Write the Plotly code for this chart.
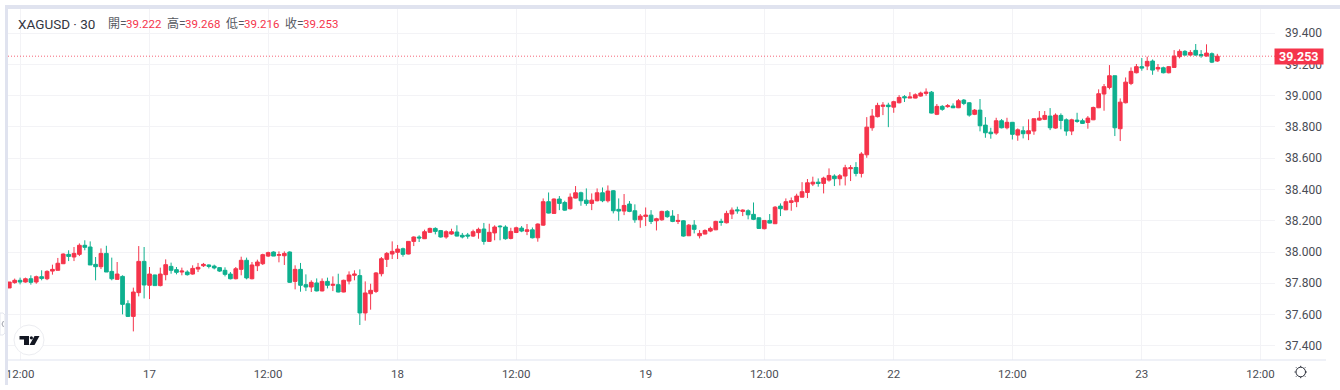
import plotly.graph_objects as go

# ---------- chart values ----------
opens = [37.77,37.804,37.819,37.808,37.829,37.808,37.842,37.829,37.878,37.883,37.925,37.985,37.968,37.985,38.043,38.032,37.921,37.906,37.991,37.876,37.825,37.844,37.669,37.588,37.74,37.94,37.787,37.853,37.785,37.855,37.908,37.887,37.872,37.872,37.859,37.891,37.912,37.917,37.91,37.9,37.883,37.859,37.829,37.889,37.947,37.829,37.912,
37.925,37.974,38.0,37.979,37.976,38.0,37.812,37.889,37.791,37.776,37.802,37.751,37.812,37.787,37.791,37.744,37.814,37.851,37.849,37.61,37.733,37.748,37.861,37.953,37.987,37.998,38.021,37.987,38.068,38.096,38.085,38.126,38.151,38.137,38.096,38.115,38.128,38.107,38.109,38.102,38.124,38.147,38.068,38.122,38.166,38.16,
38.087,38.125,38.153,38.132,38.142,38.091,38.172,38.322,38.247,38.339,38.317,38.277,38.345,38.379,38.332,38.311,38.328,38.379,38.328,38.392,38.273,38.262,38.307,38.264,38.206,38.228,38.236,38.2,38.206,38.26,38.23,38.196,38.2,38.104,38.172,38.104,38.115,38.134,38.142,38.196,38.187,38.243,38.27,38.26,38.264,38.241,
38.219,38.149,38.202,38.181,38.294,38.27,38.317,38.322,38.351,38.381,38.435,38.447,38.439,38.46,38.486,38.469,38.486,38.533,38.541,38.503,38.622,38.795,38.866,38.932,38.94,38.927,38.955,38.994,38.985,38.985,38.998,39.015,39.023,38.881,38.932,38.93,38.934,38.923,38.972,38.955,38.881,38.908,38.812,38.767,38.761,38.84,38.795,
38.83,38.748,38.776,38.757,38.774,38.844,38.849,38.87,38.793,38.874,38.846,38.774,38.844,38.84,38.829,38.846,38.923,39.011,39.053,39.128,38.789,38.955,39.079,39.147,39.186,39.19,39.222,39.171,39.179,39.147,39.181,39.25,39.284,39.26,39.29,39.264,39.254,39.269,39.222]

highs = [37.79,37.83,37.836,37.836,37.851,37.849,37.883,37.883,37.919,37.962,37.991,38.011,38.032,38.055,38.075,38.068,37.968,38.023,38.04,37.964,37.936,37.851,37.691,37.772,38.038,38.032,37.904,37.855,37.9,37.953,37.932,37.904,37.9,37.883,37.915,37.93,37.93,37.921,37.919,37.904,37.902,37.872,37.904,37.97,37.964,37.936,37.951,
37.989,38.002,38.004,38.004,38.004,38.004,37.915,37.93,37.857,37.819,37.831,37.831,37.836,37.844,37.861,37.823,37.876,37.883,37.889,37.812,37.797,37.872,37.968,38.0,38.068,38.045,38.028,38.07,38.1,38.107,38.143,38.156,38.158,38.141,38.139,38.149,38.171,38.122,38.122,38.143,38.156,38.186,38.181,38.171,38.171,38.171,
38.155,38.162,38.166,38.179,38.157,38.183,38.343,38.381,38.343,38.358,38.328,38.375,38.422,38.386,38.407,38.375,38.407,38.413,38.426,38.396,38.343,38.371,38.326,38.305,38.243,38.285,38.268,38.219,38.264,38.268,38.268,38.243,38.204,38.179,38.204,38.14,38.145,38.162,38.2,38.213,38.264,38.285,38.29,38.273,38.273,38.317,
38.221,38.204,38.243,38.294,38.311,38.343,38.349,38.373,38.447,38.467,38.482,38.471,38.482,38.535,38.497,38.499,38.558,38.556,38.575,38.639,38.863,38.915,38.955,38.959,38.955,38.968,39.004,39.004,39.023,39.015,39.026,39.047,39.03,38.947,38.94,38.947,38.951,38.979,38.979,38.959,38.915,38.979,38.863,38.795,38.859,38.851,38.859,
38.831,38.791,38.804,38.849,38.853,38.902,38.902,38.921,38.887,38.887,38.855,38.853,38.891,38.853,38.87,38.93,39.041,39.075,39.196,39.128,38.983,39.117,39.181,39.203,39.241,39.25,39.232,39.203,39.186,39.19,39.292,39.297,39.292,39.292,39.331,39.292,39.329,39.277,39.268]

lows = [37.77,37.797,37.793,37.804,37.791,37.797,37.819,37.82,37.855,37.883,37.923,37.942,37.942,37.974,38.011,37.917,37.819,37.891,37.872,37.819,37.825,37.601,37.584,37.492,37.716,37.703,37.699,37.785,37.78,37.819,37.861,37.857,37.851,37.849,37.855,37.872,37.904,37.895,37.889,37.872,37.844,37.825,37.825,37.851,37.825,37.825,37.878,
37.917,37.968,37.974,37.934,37.917,37.802,37.761,37.746,37.75,37.744,37.748,37.748,37.767,37.75,37.742,37.742,37.793,37.819,37.533,37.561,37.631,37.738,37.844,37.904,37.955,37.955,37.97,37.985,38.038,38.064,38.083,38.124,38.113,38.092,38.085,38.111,38.1,38.087,38.085,38.096,38.085,38.047,38.064,38.075,38.075,38.079,
38.081,38.121,38.127,38.108,38.087,38.066,38.168,38.247,38.245,38.268,38.264,38.272,38.343,38.296,38.296,38.268,38.324,38.319,38.317,38.247,38.2,38.236,38.255,38.187,38.155,38.166,38.179,38.138,38.2,38.219,38.191,38.179,38.098,38.102,38.119,38.087,38.113,38.127,38.14,38.168,38.183,38.211,38.245,38.23,38.209,38.204,
38.149,38.145,38.183,38.179,38.23,38.268,38.264,38.287,38.349,38.345,38.422,38.418,38.375,38.45,38.422,38.426,38.426,38.454,38.484,38.477,38.603,38.776,38.861,38.876,38.799,38.891,38.951,38.96,38.985,38.983,38.994,39.0,38.887,38.876,38.904,38.923,38.921,38.921,38.94,38.866,38.876,38.772,38.731,38.725,38.75,38.791,38.785,
38.72,38.712,38.727,38.716,38.75,38.84,38.844,38.78,38.789,38.785,38.744,38.748,38.827,38.819,38.789,38.844,38.921,38.904,39.041,38.742,38.71,38.951,39.068,39.143,39.16,39.164,39.134,39.154,39.143,39.143,39.179,39.239,39.256,39.256,39.256,39.243,39.25,39.209,39.216]

closes = [37.808,37.819,37.808,37.829,37.806,37.842,37.831,37.876,37.889,37.928,37.987,37.972,37.991,38.043,38.03,37.917,37.906,37.991,37.872,37.829,37.859,37.665,37.588,37.744,37.94,37.789,37.859,37.785,37.859,37.919,37.883,37.87,37.878,37.855,37.895,37.902,37.921,37.908,37.898,37.878,37.857,37.829,37.893,37.947,37.834,37.917,37.936,
37.983,37.996,37.974,37.983,37.991,37.806,37.889,37.787,37.776,37.806,37.751,37.812,37.787,37.793,37.744,37.819,37.853,37.859,37.61,37.738,37.755,37.866,37.957,37.991,38.004,38.019,37.985,38.068,38.096,38.09,38.13,38.151,38.132,38.096,38.13,38.13,38.102,38.096,38.102,38.13,38.145,38.068,38.126,38.16,38.162,38.085,
38.132,38.155,38.134,38.142,38.091,38.179,38.322,38.249,38.339,38.311,38.268,38.351,38.379,38.328,38.311,38.332,38.379,38.328,38.39,38.264,38.262,38.298,38.26,38.206,38.23,38.236,38.196,38.213,38.26,38.226,38.196,38.202,38.102,38.172,38.145,38.119,38.138,38.151,38.196,38.189,38.247,38.268,38.264,38.268,38.238,38.209,
38.151,38.202,38.185,38.287,38.277,38.322,38.328,38.358,38.386,38.443,38.447,38.439,38.473,38.49,38.469,38.488,38.539,38.539,38.503,38.627,38.799,38.87,38.938,38.94,38.93,38.962,38.989,38.987,38.992,39.006,39.017,39.023,38.889,38.932,38.913,38.936,38.923,38.968,38.951,38.876,38.908,38.808,38.763,38.757,38.84,38.795,38.83,
38.753,38.782,38.757,38.776,38.853,38.857,38.874,38.795,38.876,38.842,38.774,38.846,38.836,38.823,38.857,38.925,39.013,39.058,39.128,38.795,38.959,39.087,39.156,39.186,39.177,39.22,39.164,39.181,39.147,39.186,39.254,39.284,39.26,39.277,39.26,39.256,39.273,39.215,39.253]

tick_bars = [2, 26, 48, 72, 94, 118, 140, 164, 186, 210, 232]
tick_labels = ["12:00", "17", "12:00", "18", "12:00", "19", "12:00", "22", "12:00", "23", "12:00"]
price_ticks = [37.4, 37.6, 37.8, 38.0, 38.2, 38.4, 38.6, 38.8, 39.0, 39.2, 39.4]
last_price = 39.253
symbol = "XAGUSD · 30"
legend_pairs = [("開=", "39.222"), ("高=", "39.268"), ("低=", "39.216"), ("收=", "39.253")]

# ---------- styling ----------
RED = "#F5344B"
GREEN = "#0EB08F"
GRID = "#F3F3F6"
BAND = "#E0E3EF"
TEXT = "#3D3F46"
FONT = "Roboto, 'Noto Sans CJK TC', sans-serif"
L, R, T, B = 8, 1275, 9, 360


def px(x):
    return (x - L) / (R - L)


def py(y):
    return (B - y) / (B - T)


def path(points, close=True):
    s = "M" + " L".join(f"{px(x):.5f},{py(y):.5f}" for x, y in points)
    return s + (" Z" if close else "")


def rect(x0, y0, x1, y1, color):
    return dict(type="rect", xref="paper", yref="paper", x0=px(x0), x1=px(x1),
                y0=py(y1), y1=py(y0), fillcolor=color, line_width=0, layer="above")


fig = go.Figure(go.Candlestick(
    x=list(range(len(opens))), open=opens, high=highs, low=lows, close=closes,
    increasing=dict(line=dict(color=RED, width=1), fillcolor=RED),
    decreasing=dict(line=dict(color=GREEN, width=1), fillcolor=GREEN),
    whiskerwidth=0, hoverinfo="skip", showlegend=False,
))

shapes = [
    rect(5, 5, 1340, 9, BAND),
    rect(5, 5, 8, 385, BAND),
    rect(8, 359.5, 1326, 360.5, BAND),
    dict(type="line", xref="paper", yref="y", x0=0, x1=1, y0=last_price, y1=last_price,
         line=dict(color=RED, width=1, dash="1px,2px"), layer="above", opacity=0.75),
    # side tab
    dict(type="path", xref="paper", yref="paper", layer="above", fillcolor="white",
         line=dict(color="#E4E6EE", width=1),
         path=path([(0, 313), (3, 313), (5, 315), (5, 333), (3, 335), (0, 335)])),
    dict(type="path", xref="paper", yref="paper", layer="above",
         line=dict(color="#9A9DA8", width=1),
         path=path([(3.5, 321), (2, 324), (3.5, 327)], close=False)),
    # logo badge
    dict(type="circle", xref="paper", yref="paper", layer="above", fillcolor="white",
         line=dict(color="#ECEDF1", width=1),
         x0=px(14), x1=px(44), y0=py(355), y1=py(325)),
    dict(type="path", xref="paper", yref="paper", layer="above", fillcolor="#131722", line_width=0,
         path=path([(19.5, 336), (29, 336), (29, 345), (24, 345), (24, 339.5), (19.5, 339.5)])),
    dict(type="circle", xref="paper", yref="paper", layer="above", fillcolor="#131722", line_width=0,
         x0=px(29.8), x1=px(33), y0=py(339.4), y1=py(336.2)),
    dict(type="path", xref="paper", yref="paper", layer="above", fillcolor="#131722", line_width=0,
         path=path([(34.5, 336), (39.5, 336), (34.5, 345), (29.5, 345)])),
    # settings cog
    dict(type="circle", xref="paper", yref="paper", layer="above", fillcolor="white",
         line=dict(color="#2A2E39", width=1),
         x0=px(1296), x1=px(1305.5), y0=py(376.8), y1=py(367.2)),
]
for (dx, dy) in [(0, -6.2), (0, 6.2), (-6.2, 0), (6.2, 0), (-4.6, -4.6), (4.6, -4.6), (-4.6, 4.6), (4.6, 4.6)]:
    shapes.append(dict(type="line", xref="paper", yref="paper", layer="above",
                       line=dict(color="#2A2E39", width=1),
                       x0=px(1300.7 + dx * 0.8), x1=px(1300.7 + dx),
                       y0=py(372 + dy * 0.8), y1=py(372 + dy)))

annotations = []


def label(x, y, text, color=TEXT, size=12, anchor="left"):
    annotations.append(dict(xref="paper", yref="paper", x=px(x), y=py(y), text=text, showarrow=False,
                            xanchor=anchor, yanchor="middle", align="left", borderpad=0,
                            font=dict(family=FONT, size=size, color=color)))


label(16.5, 24, symbol, "#33363F", 13.5)
lx = 107
for name, value in legend_pairs:
    label(lx, 24, name, "#55585F", 12)
    label(lx + 18, 24, value, RED, 11.5)
    lx += 59

annotations.append(dict(
    xref="paper", yref="y", x=px(1298.8), y=last_price, text=f"<b>{last_price:.3f}</b>", showarrow=False,
    xanchor="center", yanchor="middle", bgcolor=RED, borderpad=0, width=47.5, height=15,
    font=dict(family=FONT, size=12.5, color="white"),
))

fig.update_layout(
    width=1340, height=390, autosize=False,
    margin=dict(l=L, r=1340 - R, t=T, b=390 - B, pad=0, autoexpand=False),
    paper_bgcolor="white", plot_bgcolor="white",
    boxgap=0.12, boxgroupgap=0.22,
    showlegend=False,
    shapes=shapes, annotations=annotations,
    xaxis=dict(
        range=[-0.24, 234.7], rangeslider=dict(visible=False),
        tickmode="array", tickvals=tick_bars, ticktext=tick_labels,
        showgrid=True, gridcolor=GRID, gridwidth=1, zeroline=False, showline=False, ticks="",
        tickfont=dict(family=FONT, size=11.5, color="#4A4D55"), ticklabelstandoff=5,
    ),
    yaxis=dict(
        side="right", range=[37.309, 39.555],
        tickmode="array", tickvals=price_ticks, tickformat=".3f",
        showgrid=True, gridcolor=GRID, gridwidth=1, zeroline=False, showline=False, ticks="",
        tickfont=dict(family=FONT, size=12, color="#4A4D55"), ticklabelstandoff=9,
    ),
)

fig.write_html(
    "out.html",
    config=dict(displayModeBar=False, responsive=False),
    post_script="document.body.style.margin='0';document.body.style.overflow='hidden';",
)
